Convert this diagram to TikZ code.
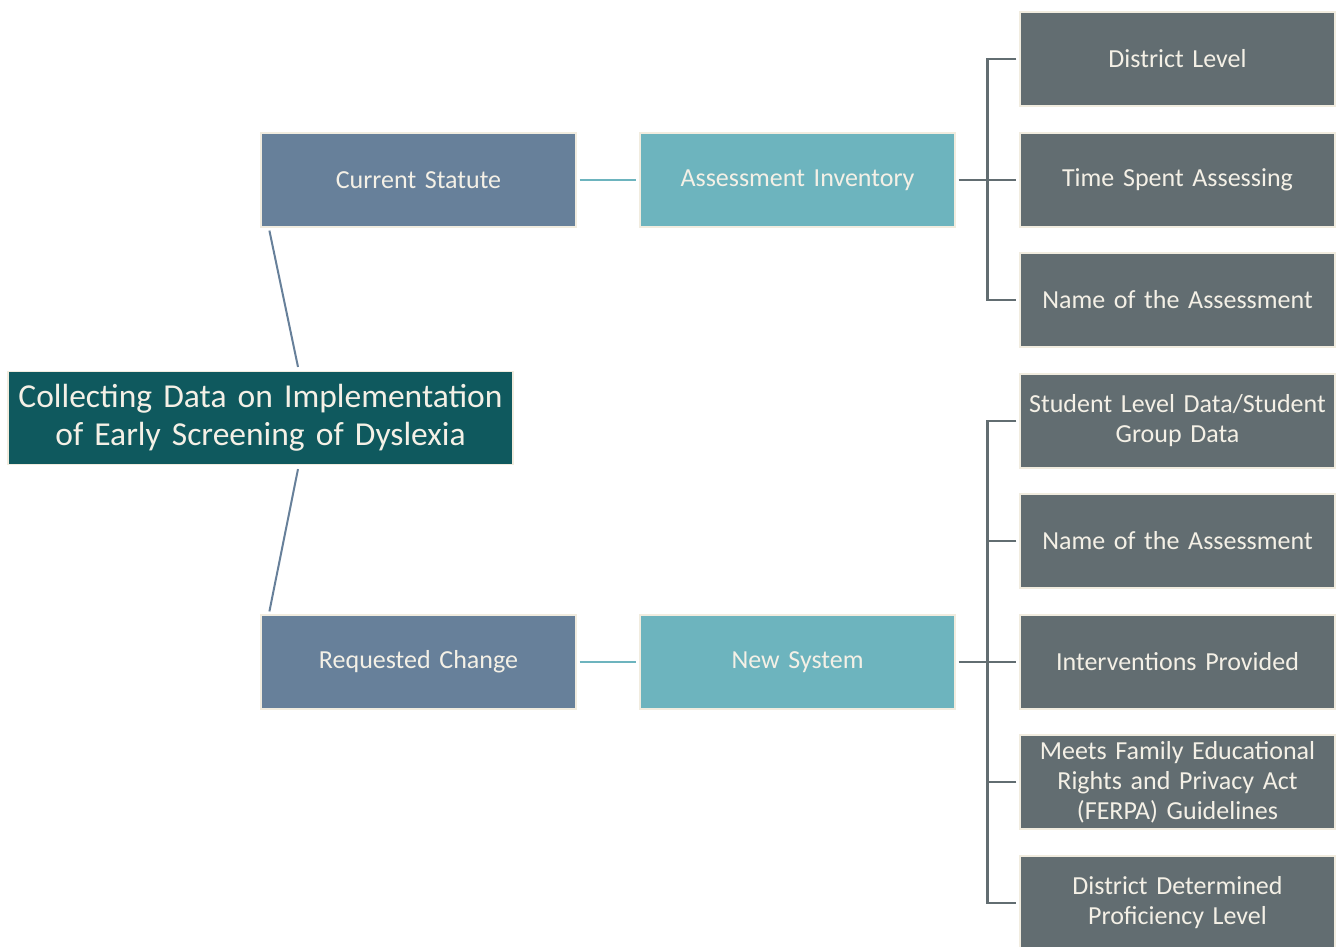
\documentclass[tikz,border=0pt]{standalone}
\usepackage{fontspec}
\setmainfont{Carlito}
\usetikzlibrary{calc}
\definecolor{maincol}{HTML}{0F595E}
\definecolor{bluecol}{HTML}{67809A}
\definecolor{tealcol}{HTML}{6DB4BE}
\definecolor{graycol}{HTML}{626D71}
\definecolor{txtcol}{HTML}{F4F0E6}
\definecolor{edgecol}{HTML}{F1ECDF}
\begin{document}
\begin{tikzpicture}[x=1pt,y=-1pt,
  box/.style={draw=edgecol,line width=1.2pt,minimum width=315pt,minimum height=94pt,inner sep=0pt,
    text width=312pt,align=center,text=txtcol,font=\fontsize{26}{30}\selectfont},
  mainbox/.style={box,fill=maincol,minimum width=505pt,text width=502pt,minimum height=93pt,font=\fontsize{33.5}{38}\selectfont},
  bluebox/.style={box,fill=bluecol},
  tealbox/.style={box,fill=tealcol},
  graybox/.style={box,fill=graycol},
  blink/.style={draw=bluecol,line width=2pt},
  tlink/.style={draw=tealcol,line width=2pt},
  glink/.style={draw=graycol,line width=2.4pt}]
\useasboundingbox (0,0) rectangle (1337,946);
\node[mainbox] (main) at (260.5,418) {Collecting Data on Implementation\\of Early Screening of Dyslexia};
\node[bluebox] (cs) at (418.5,180) {Current Statute};
\node[tealbox] (ai) at (797.5,180) {Assessment Inventory};
\node[bluebox] (rc) at (418.5,662) {Requested Change};
\node[tealbox] (ns) at (797.5,662) {New System};
\node[graybox] (r1) at (1177.5,59) {District Level};
\node[graybox] (r2) at (1177.5,180) {Time Spent Assessing};
\node[graybox] (r3) at (1177.5,300) {Name of the Assessment};
\node[graybox] (s1) at (1177.5,421) {Student Level Data/Student\\Group Data};
\node[graybox] (s2) at (1177.5,541) {Name of the Assessment};
\node[graybox] (s3) at (1177.5,662) {Interventions Provided};
\node[graybox] (s4) at (1177.5,782) {Meets Family Educational\\Rights and Privacy Act\\(FERPA) Guidelines};
\node[graybox] (s5) at (1177.5,903) {District Determined\\Proficiency Level};
% slanted links
\draw[blink] ([xshift=9pt,yshift=-3pt]cs.south west) -- ([xshift=37.5pt,yshift=4pt]main.north);
\draw[blink] ([xshift=37.5pt,yshift=-4pt]main.south) -- ([xshift=9pt,yshift=3pt]rc.north west);
% horizontal teal links
\draw[tlink] ([xshift=3pt]cs.east) -- ([xshift=-3pt]ai.west);
\draw[tlink] ([xshift=3pt]rc.east) -- ([xshift=-3pt]ns.west);
% elbow links
\draw[glink] ([xshift=3pt]ai.east) -- ([xshift=-3pt]r2.west);
\draw[glink] ([xshift=-3pt]r1.west) -- ++(-29,0) |- ([xshift=-3pt]r3.west);
\draw[glink] ([xshift=3pt]ns.east) -- ([xshift=-3pt]s3.west);
\draw[glink] ([xshift=-3pt]s1.west) -- ++(-29,0) |- ([xshift=-3pt]s5.west);
\draw[glink] ([xshift=-3pt]s2.west) -- ++(-29,0);
\draw[glink] ([xshift=-3pt]s4.west) -- ++(-29,0);
\end{tikzpicture}
\end{document}
